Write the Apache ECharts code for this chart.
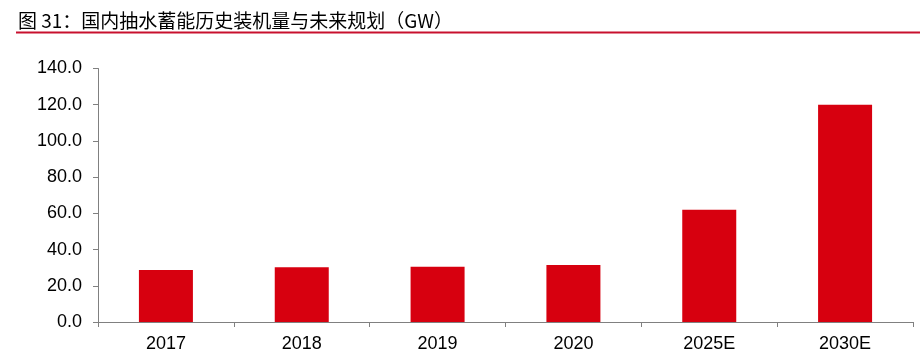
<!DOCTYPE html>
<html><head><meta charset="utf-8">
<script src="https://cdn.jsdelivr.net/npm/echarts@6/dist/echarts.min.js"></script>
<style>html,body{margin:0;padding:0;background:#fff}#c{width:920px;height:356px}</style>
</head><body><div id="c"></div>
<script>
const titleText = '图 31：国内抽水蓄能历史装机量与未来规划（GW）';
const categories = ['2017', '2018', '2019', '2020', '2025E', '2030E'];
const capacity = [28.7, 30.2, 30.5, 31.5, 62, 120];
const yTicks = { min: 0, max: 140, interval: 20 };

const chart = echarts.init(document.getElementById('c'));
chart.setOption({
  animation: false,
  backgroundColor: '#fff',
  title: {
    text: titleText, left: 13, top: 6,
    textStyle: { fontFamily: 'Noto Sans CJK SC', fontSize: 19, fontWeight: 'normal', color: '#000' }
  },
  graphic: [{
    type: 'line', shape: { x1: 16, y1: 32.5, x2: 920, y2: 32.5 },
    style: { stroke: '#c8102e', lineWidth: 2 }
  }],
  grid: { left: 98, right: 7, top: 68.5, bottom: 34, containLabel: false },
  xAxis: {
    type: 'category', data: categories,
    axisLine: { lineStyle: { color: '#808080', width: 1 } },
    axisTick: { show: true, length: 5, alignWithLabel: false, lineStyle: { color: '#808080' } },
    axisLabel: { color: '#000', fontSize: 18, fontFamily: 'Liberation Sans', margin: 13 }
  },
  yAxis: {
    type: 'value', min: yTicks.min, max: yTicks.max, interval: yTicks.interval,
    axisLine: { show: true, lineStyle: { color: '#808080', width: 1 } },
    axisTick: { show: true, length: 5, lineStyle: { color: '#808080' } },
    splitLine: { show: false },
    axisLabel: { color: '#000', fontSize: 18, fontFamily: 'Liberation Sans', margin: 16,
      formatter: v => v.toFixed(1) }
  },
  series: [{
    type: 'bar', data: capacity, barWidth: 54,
    itemStyle: { color: '#d7000f' }
  }]
});
</script></body></html>
